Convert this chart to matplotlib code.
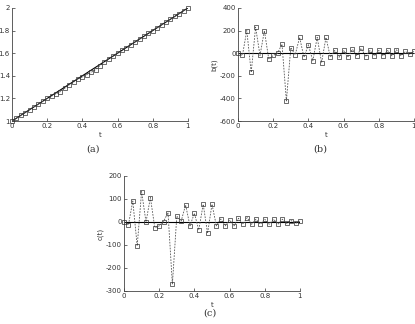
import numpy as np
import matplotlib
matplotlib.use("Agg")
import matplotlib.pyplot as plt

# ---------------- data ----------------
t = np.linspace(0, 1, 41)   # sample times, step 0.025

a_exact_t = [0.0, 1.0]
a_exact = [1.0, 2.0]
a_vals = [1.00, 1.025, 1.05, 1.075, 1.10, 1.125, 1.15, 1.175, 1.20, 1.22,
          1.24, 1.26, 1.29, 1.32, 1.345, 1.37, 1.39, 1.41, 1.43, 1.455,
          1.49, 1.525, 1.55, 1.575, 1.60, 1.625, 1.65, 1.675, 1.70, 1.725,
          1.75, 1.775, 1.80, 1.825, 1.85, 1.875, 1.90, 1.925, 1.95, 1.975, 2.00]

b_vals = [0, -20, 200, -170, 230, -20, 198, -55, -20, 0,
          80, -423, 50, -15, 139, -36, 74, -68, 139, -83,
          139, -36, 24, -36, 24, -36, 35, -24, 44, -30,
          24, -24, 24, -24, 24, -24, 30, -24, 15, -9, 15]

c_vals = [0, -13, 91, -104, 132, 0, 106, -25, -17, 2,
          41, -271, 25, 4, 74, -17, 38, -35, 77, -49,
          77, -17, 13, -17, 9, -17, 16, -10, 19, -10,
          12, -10, 12, -10, 12, -10, 12, -6, 6, -6, 4]

x_ticks = [0, 0.2, 0.4, 0.6, 0.8, 1]
x_ticklabels = ["0", "0.2", "0.4", "0.6", "0.8", "1"]
a_ticks = [1, 1.2, 1.4, 1.6, 1.8, 2]
a_ticklabels = ["1", "1.2", "1.4", "1.6", "1.8", "2"]
b_ticks = [-600, -400, -200, 0, 200, 400]
c_ticks = [-300, -200, -100, 0, 100, 200]
# ---------------------------------------------------------------

plt.rcParams["font.family"] = "DejaVu Sans"

fig = plt.figure(figsize=(4.15, 3.24), dpi=100)
ax_a = fig.add_axes([0.0289, 0.6265, 0.424, 0.349])
ax_b = fig.add_axes([0.5735, 0.6265, 0.424, 0.349])
ax_c = fig.add_axes([0.2988, 0.1019, 0.424, 0.355])

grey = "#555555"


def style(ax, yticks, ylabels, ylim, ylabel):
    ax.set_xlim(0, 1)
    ax.set_ylim(*ylim)
    ax.set_xticks(x_ticks)
    ax.set_xticklabels(x_ticklabels)
    ax.set_yticks(yticks)
    ax.set_yticklabels(ylabels)
    ax.tick_params(direction="in", length=2, width=0.5, labelsize=5, pad=1.5,
                   colors="#333333")
    for s in ["top", "right"]:
        ax.spines[s].set_visible(False)
    for s in ["left", "bottom"]:
        ax.spines[s].set_linewidth(0.6)
        ax.spines[s].set_color("#444444")
    ax.set_xlabel("t", fontsize=5, labelpad=2, color="#333333")
    ax.set_ylabel(ylabel, fontsize=5, labelpad=2, color="#333333")


def approx(ax, vals):
    ax.plot(t, vals, linestyle=(0, (2, 1.5)), color=grey, linewidth=0.6,
            marker="s", markersize=2.3, markerfacecolor="none",
            markeredgecolor="#333333", markeredgewidth=0.5, clip_on=False,
            zorder=3)


# (a)
ax_a.plot(a_exact_t, a_exact, color="black", linewidth=0.8, zorder=2)
approx(ax_a, a_vals)
style(ax_a, a_ticks, a_ticklabels, (1, 2), "a(t)")

# (b)
ax_b.axhline(0, color="black", linewidth=0.8, zorder=2)
approx(ax_b, b_vals)
style(ax_b, b_ticks, [str(v) for v in b_ticks], (-600, 400), "b(t)")

# (c)
ax_c.axhline(0, color="black", linewidth=0.8, zorder=2)
approx(ax_c, c_vals)
style(ax_c, c_ticks, [str(v) for v in c_ticks], (-300, 200), "c(t)")

fig.text(93 / 415, 1 - 149 / 324, "(a)", ha="center", va="center",
         fontsize=7, family="DejaVu Serif", color="#333333")
fig.text(320 / 415, 1 - 149 / 324, "(b)", ha="center", va="center",
         fontsize=7, family="DejaVu Serif", color="#333333")
fig.text(210 / 415, 1 - 313 / 324, "(c)", ha="center", va="center",
         fontsize=7, family="DejaVu Serif", color="#333333")

fig.savefig("out.png", dpi=100)
